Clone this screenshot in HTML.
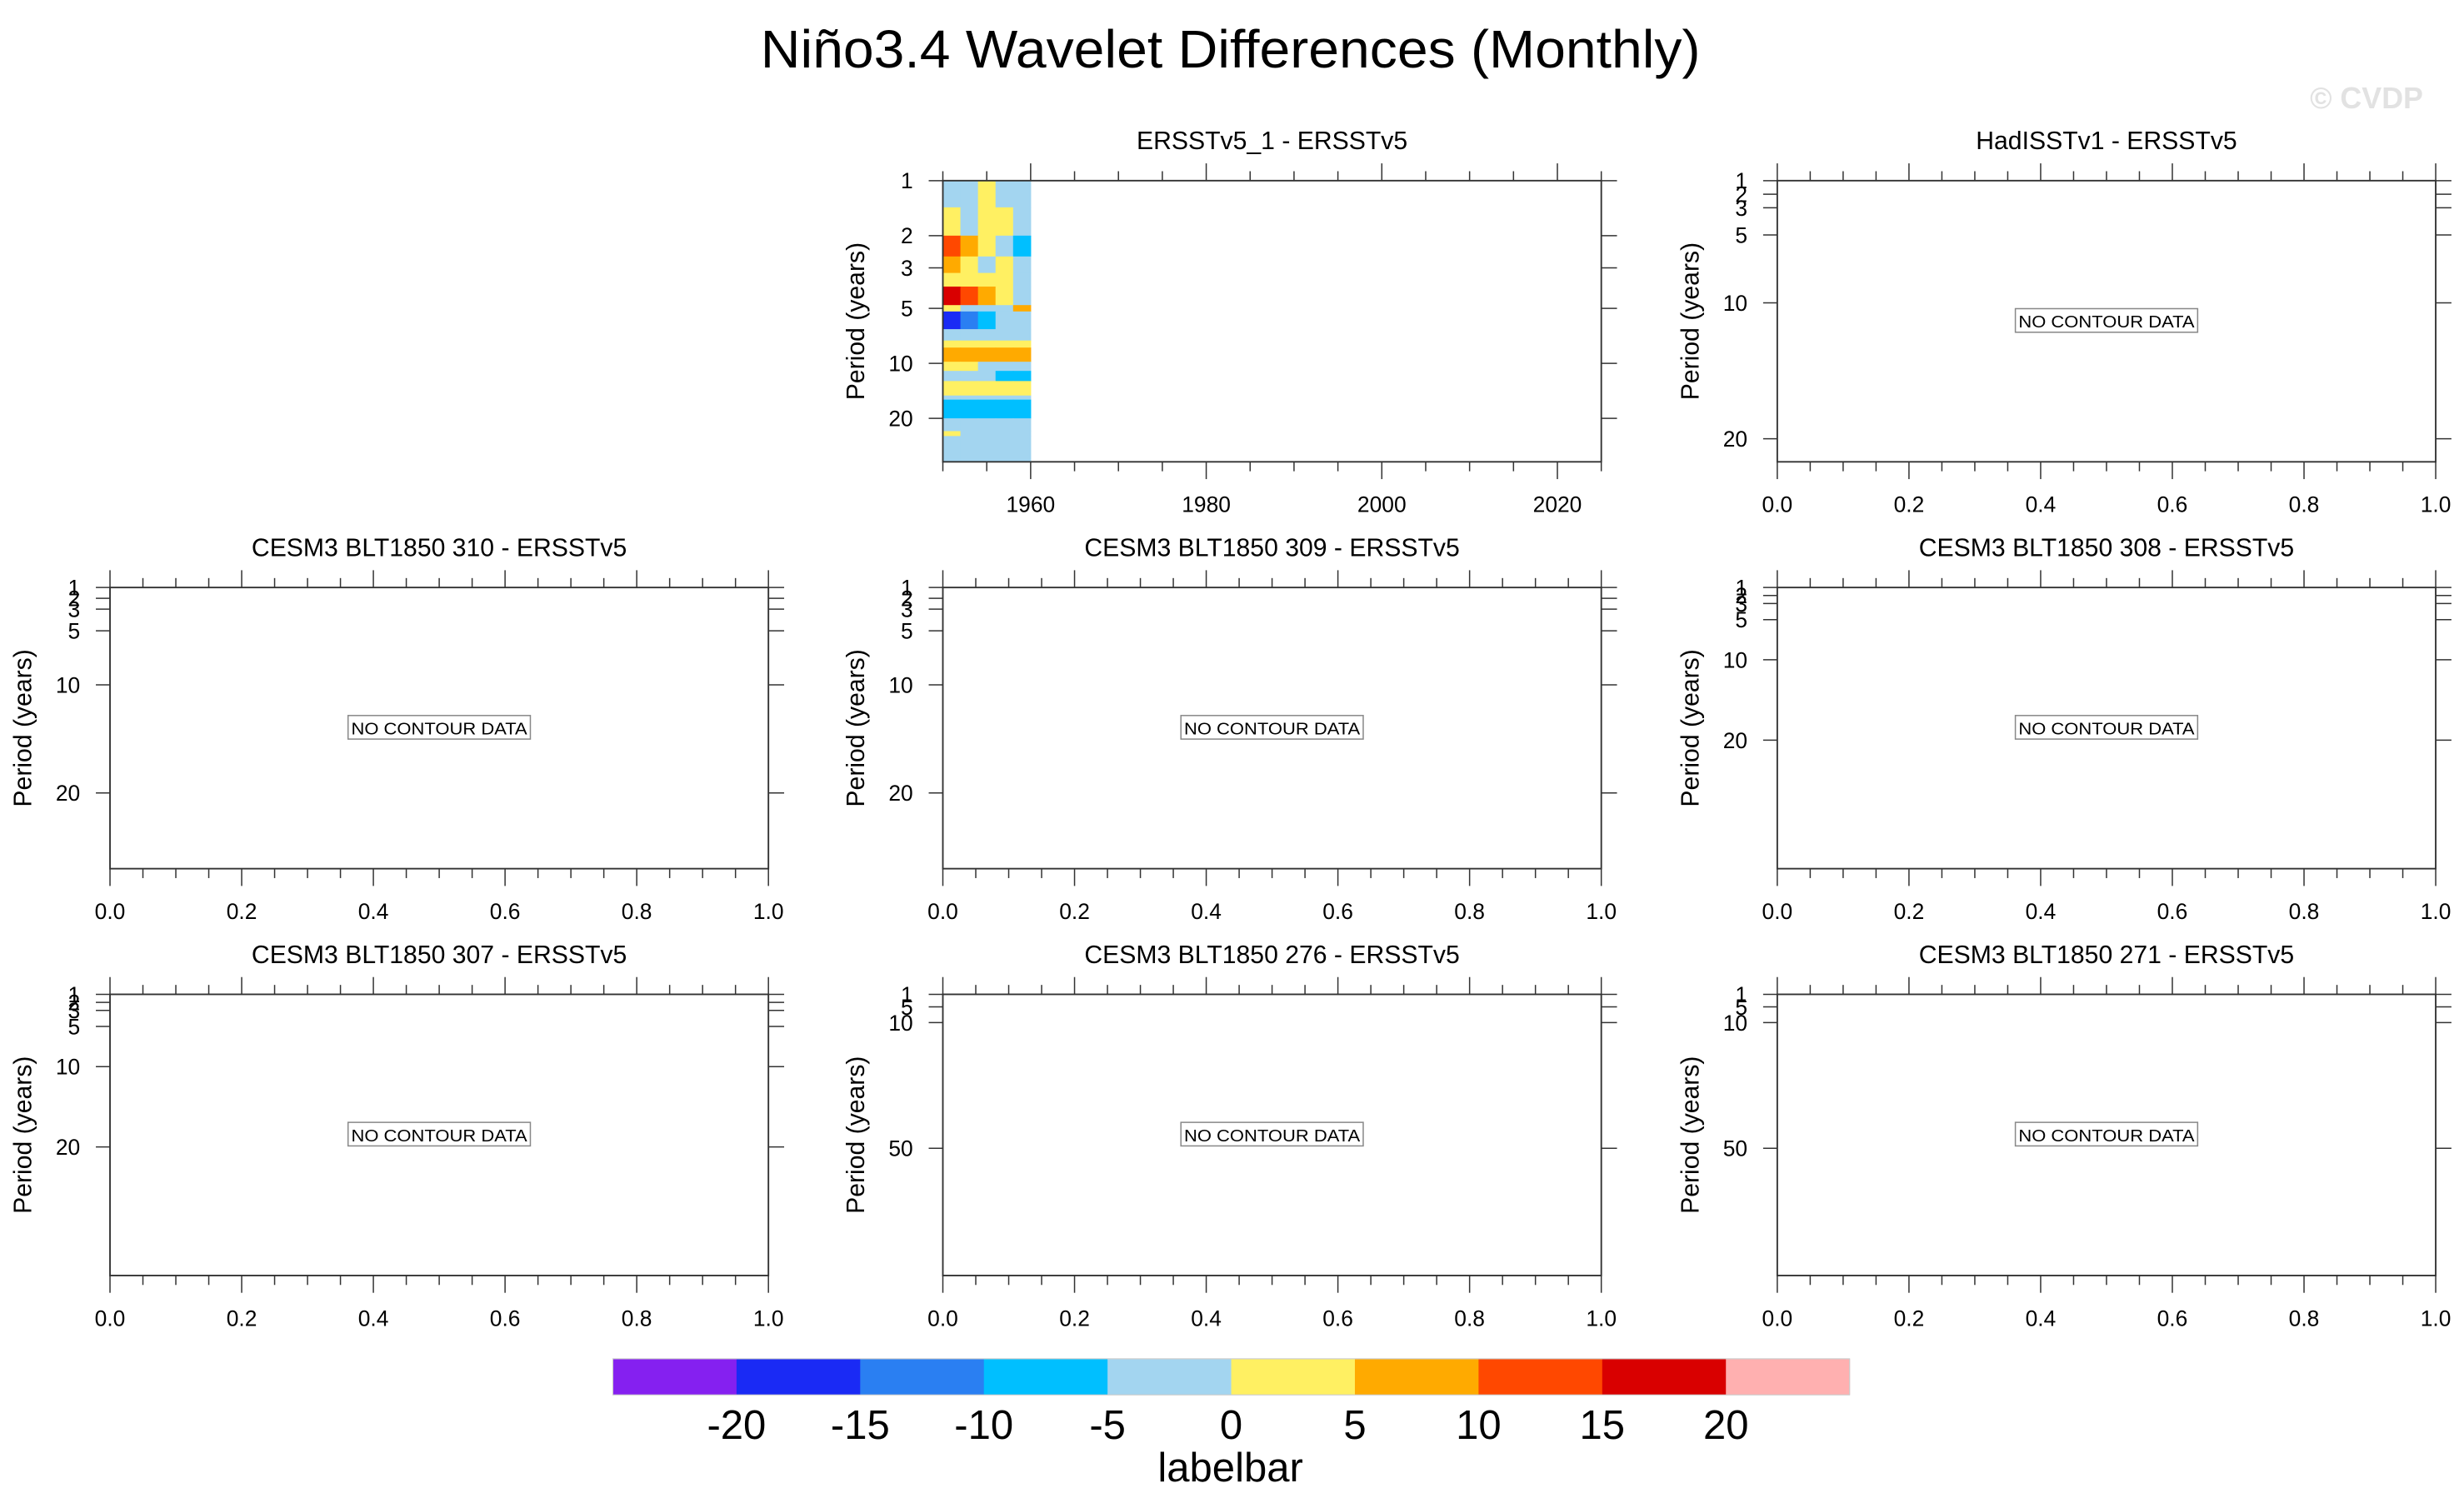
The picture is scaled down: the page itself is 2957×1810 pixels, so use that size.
<!DOCTYPE html>
<html><head><meta charset="utf-8"><style>
html,body{margin:0;padding:0;background:#fff;}
svg{display:block;}
text{font-family:"Liberation Sans",sans-serif;fill:#000;}
</style></head><body>
<svg id="fig" xmlns="http://www.w3.org/2000/svg" width="2957" height="1810" viewBox="0 0 1568 960" preserveAspectRatio="none">
<text x="783" y="43" font-size="34" text-anchor="middle" textLength="598" lengthAdjust="spacingAndGlyphs">Niño3.4 Wavelet Differences (Monthly)</text>
<text x="1542" y="69" font-size="19" font-weight="bold" text-anchor="end" style="fill:#e2e2e2">© CVDP</text>
</svg>
<script>
// ---- chart data ----
const yearEdges = [1950, 1952, 1954, 1956, 1958, 1960];
const periodEdges = [1.0, 1.4, 2.0, 2.6, 3.2, 3.8, 4.8, 5.2, 6.5, 7.5, 8.2, 9.8, 11, 12.5, 15, 15.8, 20, 23.5, 25, 34.6];
const waveletValues = [
  [-2, -2, 3, -2, -2],
  [3, -2, 3, 3, -2],
  [12, 7, 3, -2, -7],
  [7, 3, -2, 3, -2],
  [3, 3, 3, 3, -2],
  [17, 12, 7, 3, -2],
  [3, -2, -2, -2, 7],
  [-18, -12, -7, -2, -2],
  [-2, -2, -2, -2, -2],
  [3, 3, 3, 3, 3],
  [7, 7, 7, 7, 7],
  [3, 3, -2, -2, -2],
  [-2, -2, -2, -7, -7],
  [3, 3, 3, 3, 3],
  [-2, -2, -2, -2, -2],
  [-7, -7, -7, -7, -7],
  [-2, -2, -2, -2, -2],
  [3, -2, -2, -2, -2],
  [-2, -2, -2, -2, -2]
];
const levels = [-20, -15, -10, -5, 0, 5, 10, 15, 20];
const levelColors = ["#8520f0", "#1a2af5", "#2a7ff2", "#00bfff", "#a3d5f0", "#fff062", "#ffaa00", "#ff4800", "#d90000", "#ffb0b0"];
const panelTitles = ["ERSSTv5_1 - ERSSTv5", "HadISSTv1 - ERSSTv5", "CESM3 BLT1850 310 - ERSSTv5", "CESM3 BLT1850 309 - ERSSTv5", "CESM3 BLT1850 308 - ERSSTv5", "CESM3 BLT1850 307 - ERSSTv5", "CESM3 BLT1850 276 - ERSSTv5", "CESM3 BLT1850 271 - ERSSTv5"];
const panelYMax = [34.6, 21.7, 27, 27, 36, 36, 90.5, 90.5];
const panelYTicks = [[1,2,3,5,10,20],[1,2,3,5,10,20],[1,2,3,5,10,20],[1,2,3,5,10,20],[1,2,3,5,10,20],[1,2,3,5,10,20],[1,5,10,50],[1,5,10,50]];
const yearTicks = [1960, 1980, 2000, 2020];
const unitTicks = [0.0, 0.2, 0.4, 0.6, 0.8, 1.0];

const NS = "http://www.w3.org/2000/svg";
const svg = document.getElementById("fig");
function mk(tag, attrs, parent) {
  const e = document.createElementNS(NS, tag);
  for (const k in attrs) e.setAttribute(k, attrs[k]);
  (parent || svg).appendChild(e);
  return e;
}
const colX = [70, 600, 1131], rowY = [115, 374, 633], PW = 419, PH = 179;
const slots = [[1,0],[2,0],[0,1],[1,1],[2,1],[0,2],[1,2],[2,2]];
function colorFor(v) { let i = 0; while (i < levels.length && v >= levels[i]) i++; return levelColors[i]; }

slots.forEach((s, p) => {
  const x0 = colX[s[0]], y0 = rowY[s[1]];
  const g = mk("g", {});
  
  
  const isYear = p === 0;
  const xmin = isYear ? 1950 : 0, xmax = isYear ? 2025 : 1;
  const xs = v => x0 + (v - xmin) / (xmax - xmin) * PW;
  const ymax = panelYMax[p];
  const ys = isYear ? (v => y0 + Math.log(v) / Math.log(ymax) * PH) : (v => y0 + (v - 1) / (ymax - 1) * PH);
  if (isYear) {
    waveletValues.forEach((row, r) => {
      row.forEach((v, c) => {
        const cell = mk("rect", {x: xs(yearEdges[c]), y: ys(periodEdges[r]), width: xs(yearEdges[c+1]) - xs(yearEdges[c]) + 0.3, height: ys(periodEdges[r+1]) - ys(periodEdges[r]) + 0.3, fill: colorFor(v)}, g);
        
        
      });
    });
  } else {
    const b = mk("rect", {x: x0 + PW/2 - 58, y: y0 + PH/2 - 8, width: 116, height: 15, fill: "#fff", stroke: "#888", "stroke-width": 0.8}, g);
    
    
    const t = mk("text", {x: x0 + PW/2, y: y0 + PH/2 + 4, "font-size": 11, "text-anchor": "middle", textLength: 112, lengthAdjust: "spacingAndGlyphs"}, g);
    t.textContent = "NO CONTOUR DATA";
    
    
  }
  const fr = mk("rect", {x: x0, y: y0, width: PW, height: PH, fill: "none", stroke: "#333", "stroke-width": 1}, g);
  
  
  const minorStep = isYear ? 5 : 0.05;
  for (let v = xmin; v <= xmax + 1e-9; v += minorStep) {
    const vv = Math.round(v * 1000) / 1000;
    const major = isYear ? (vv % 20 === 0) : (Math.abs(vv * 5 - Math.round(vv * 5)) < 1e-6);
    const L = major ? 11 : 6, X = xs(vv);
    mk("line", {x1: X, x2: X, y1: y0 + PH, y2: y0 + PH + L, stroke: "#333", "stroke-width": 0.8}, g);
    mk("line", {x1: X, x2: X, y1: y0, y2: y0 - L, stroke: "#333", "stroke-width": 0.8}, g);
  }
  (isYear ? yearTicks : unitTicks).forEach(v => {
    const t = mk("text", {x: xs(v), y: y0 + PH + 32, "font-size": 14, "text-anchor": "middle"}, g);
    t.textContent = isYear ? String(v) : v.toFixed(1);
    
    
  });
  panelYTicks[p].forEach(v => {
    const Y = ys(v);
    mk("line", {x1: x0 - 9, x2: x0, y1: Y, y2: Y, stroke: "#333", "stroke-width": 0.8}, g);
    mk("line", {x1: x0 + PW, x2: x0 + PW + 10, y1: Y, y2: Y, stroke: "#333", "stroke-width": 0.8}, g);
    const t = mk("text", {x: x0 - 19, y: Y + 5, "font-size": 14, "text-anchor": "end"}, g);
    t.textContent = String(v);
    
    
  });
  const yl = mk("text", {x: 0, y: 0, "font-size": 16, "text-anchor": "middle", transform: `translate(${x0 - 50},${y0 + PH/2}) rotate(-90)`}, g);
  yl.textContent = "Period (years)";
  
  
  const ti = mk("text", {x: x0 + PW/2, y: y0 - 20, "font-size": 16, "text-anchor": "middle"}, g);
  ti.textContent = panelTitles[p];
  
  
});

// colorbar
const cbX = 390, cbW = 787, cbY = 865, cbH = 23, boxW = cbW / levelColors.length;
levelColors.forEach((c, i) => {
  const r = mk("rect", {x: cbX + i * boxW, y: cbY, width: boxW + 0.3, height: cbH, fill: c});
  
  
});
mk("rect", {x: cbX, y: cbY, width: cbW, height: cbH, fill: "none", stroke: "#ccc", "stroke-width": 0.6});
levels.forEach((v, i) => {
  const t = mk("text", {x: cbX + (i + 1) * boxW, y: 916, "font-size": 26, "text-anchor": "middle"});
  t.textContent = String(v);
  
  
});
const lb = mk("text", {x: 783, y: 943, "font-size": 26, "text-anchor": "middle"});
lb.textContent = "labelbar";


</script>
</body></html>
